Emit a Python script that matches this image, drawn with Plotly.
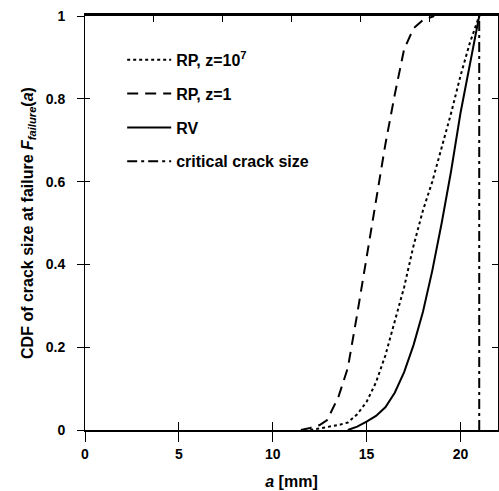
import plotly.graph_objects as go

# ---- data ----
rp_z7_a = [12.0, 12.5, 13.0, 13.5, 14.0, 14.5, 15.0, 15.5, 16.0, 16.5, 17.0, 17.5, 18.0, 18.5, 19.0, 19.5, 20.0, 20.5, 21.0]
rp_z7_F = [0.0, 0.004, 0.008, 0.012, 0.018, 0.038, 0.068, 0.115, 0.18, 0.26, 0.345, 0.445, 0.53, 0.60, 0.68, 0.765, 0.855, 0.935, 1.0]

rp_z1_a = [11.5, 12.0, 12.5, 12.9, 13.5, 14.0, 14.5, 15.0, 15.5, 16.0, 16.5, 17.0, 17.5, 18.0, 18.6]
rp_z1_F = [0.0, 0.005, 0.012, 0.024, 0.08, 0.15, 0.28, 0.42, 0.55, 0.69, 0.81, 0.92, 0.97, 0.99, 1.0]

rv_a = [14.0, 14.5, 15.0, 15.5, 16.0, 16.5, 17.0, 17.5, 18.0, 18.5, 19.0, 19.5, 20.0, 20.5, 21.0]
rv_F = [0.0, 0.008, 0.02, 0.034, 0.055, 0.09, 0.14, 0.205, 0.285, 0.385, 0.50, 0.625, 0.765, 0.885, 1.0]

crit_a = [21.0, 21.0]
crit_F = [0.0, 1.0]

x_ticks = [0, 5, 10, 15, 20]
y_ticks = [0, 0.2, 0.4, 0.6, 0.8, 1.0]
top_ticks = [0, 22 / 6, 44 / 6, 66 / 6, 88 / 6, 110 / 6, 22]
x_range = [0, 22]
y_range = [0, 1]

FONT = "Liberation Sans, Arial, sans-serif"

fig = go.Figure()
fig.add_trace(go.Scatter(x=rp_z7_a, y=rp_z7_F, mode="lines", name="RP, z=10<sup>7</sup>",
                         line=dict(color="black", width=2, dash="3px,3px"), legendgroup="a"))
fig.add_trace(go.Scatter(x=rp_z1_a, y=rp_z1_F, mode="lines", name="RP, z=1",
                         line=dict(color="black", width=2, dash="11px,7px"), legendgroup="b"))
fig.add_trace(go.Scatter(x=rv_a, y=rv_F, mode="lines", name="RV",
                         line=dict(color="black", width=2), legendgroup="c"))
fig.add_trace(go.Scatter(x=crit_a, y=crit_F, mode="lines", name="critical crack size",
                         line=dict(color="black", width=2, dash="10px,4px,3px,4px"), legendgroup="d"))
# helper empty traces so that decoration axes are drawn
fig.add_trace(go.Scatter(x=[], y=[], xaxis="x2", yaxis="y2", showlegend=False, hoverinfo="skip"))
fig.add_trace(go.Scatter(x=[], y=[], xaxis="x3", yaxis="y3", showlegend=False, hoverinfo="skip"))

tickfont = dict(family=FONT, size=14, color="black", weight="bold")

fig.update_layout(
    width=499, height=491,
    margin=dict(l=85, r=1, t=16, b=61),
    paper_bgcolor="white", plot_bgcolor="white",
    font=dict(family=FONT, color="black"),
    showlegend=True,
    legend=dict(x=0.09, y=0.935, xanchor="left", yanchor="top", itemwidth=44,
                bgcolor="rgba(0,0,0,0)", tracegroupgap=10,
                font=dict(family=FONT, size=16, color="black", weight="bold")),
    xaxis=dict(range=x_range, tickvals=x_ticks, ticks="outside", ticklen=10, tickwidth=1,
               tickcolor="black", showline=True, linecolor="black", linewidth=1.5,
               showgrid=False, zeroline=False, tickfont=tickfont, ticklabelstandoff=0,
               title=dict(text="<b><i>a</i> [mm]</b>", font=dict(family=FONT, size=16, color="black"),
                          standoff=15)),
    xaxis2=dict(range=x_range, overlaying="x", side="top", anchor="y", tickvals=top_ticks,
                ticks="inside", ticklen=6, tickcolor="black", showticklabels=False,
                showline=True, linecolor="black", linewidth=2.5, showgrid=False, zeroline=False),
    xaxis3=dict(range=x_range, overlaying="x", side="bottom", anchor="y", tickvals=x_ticks,
                ticks="inside", ticklen=8, tickcolor="black", showticklabels=False,
                showline=False, showgrid=False, zeroline=False),
    yaxis=dict(range=y_range, tickvals=y_ticks, ticks="outside", ticklen=7, tickwidth=1,
               tickcolor="black", showline=True, linecolor="black", linewidth=1,
               showgrid=False, zeroline=False, tickfont=tickfont, ticklabelstandoff=9,
               title=dict(text="<b>CDF of crack size at failure <i>F</i><sub><i>failure</i></sub>(<i>a</i>)</b>",
                          font=dict(family=FONT, size=16, color="black"), standoff=8)),
    yaxis2=dict(range=y_range, overlaying="y", side="right", anchor="x", tickvals=y_ticks,
                ticks="inside", ticklen=6, tickcolor="black", showticklabels=False,
                showline=True, linecolor="black", linewidth=1, showgrid=False, zeroline=False),
    yaxis3=dict(range=y_range, overlaying="y", side="left", anchor="x", tickvals=y_ticks,
                ticks="inside", ticklen=5, tickcolor="black", showticklabels=False,
                showline=False, showgrid=False, zeroline=False),
)

fig.write_html("out.html", config={"displayModeBar": False},
               post_script="document.body.style.margin='0';")
